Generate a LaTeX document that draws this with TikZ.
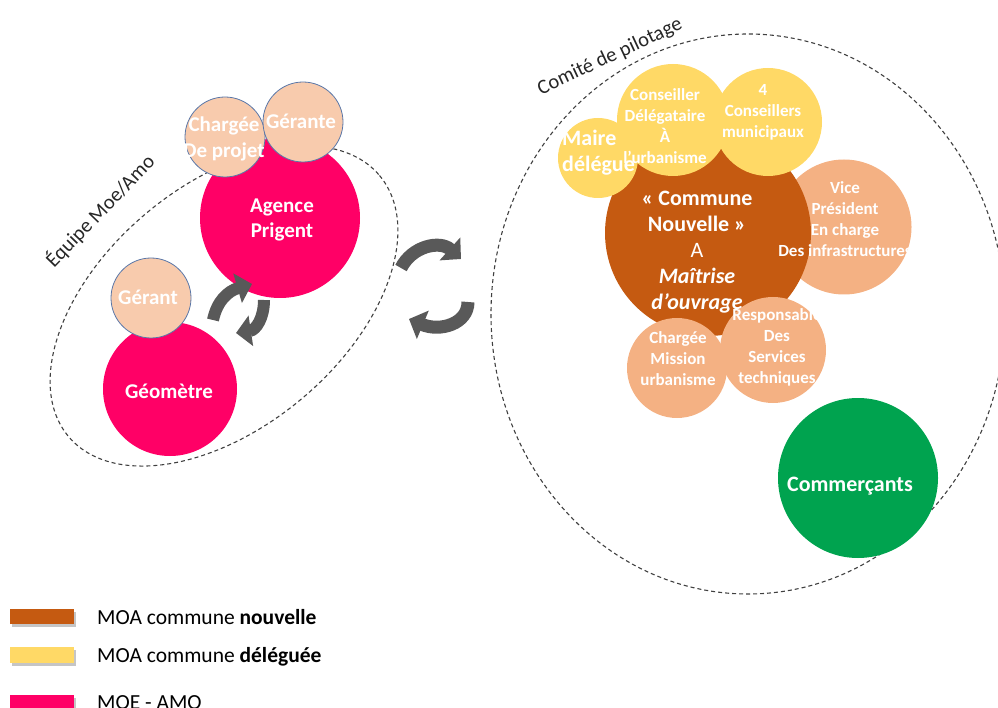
\documentclass[tikz,border=0pt]{standalone}
\usepackage{fontspec}
\setmainfont{Carlito}
\usetikzlibrary{arrows.meta}
\definecolor{cPink}{HTML}{FF0066}
\definecolor{cPeach}{HTML}{F8CBAD}
\definecolor{cEdge}{HTML}{5A77A8}
\definecolor{cDark}{HTML}{C55A11}
\definecolor{cYel}{HTML}{FFD966}
\definecolor{cLight}{HTML}{F4B183}
\definecolor{cGreen}{HTML}{00A34F}
\definecolor{cGray}{HTML}{595959}
\definecolor{cDash}{HTML}{404040}
\begin{document}
\begin{tikzpicture}[x=1pt,y=-1pt,
  disc/.style={circle,inner sep=0pt,outer sep=0pt,minimum size=#1},
  bigtxt/.style={text=white,font=\bfseries\fontsize{21}{25.5}\selectfont,align=center,inner sep=0pt},
  smalltxt/.style={text=white,font=\bfseries\fontsize{17}{21}\selectfont,align=center,inner sep=0pt},
  grouptxt/.style={text=black!85,font=\fontsize{20.5}{24}\selectfont,inner sep=0pt},
  legtxt/.style={text=black,font=\fontsize{21.5}{26}\selectfont,inner sep=0pt,anchor=base west},
  dashline/.style={draw=cDash,line width=1.1pt,dash pattern=on 4pt off 3pt},
  garrow/.style={draw=cGray,line width=12pt,-{Triangle[length=15pt,width=30pt]}},
  legbox/.style={minimum width=64pt,minimum height=15pt,inner sep=0pt,anchor=north west}
]
\useasboundingbox (0,0) rectangle (998,708);

% ---------- left group ----------
\draw[dashline,rotate around={40:(224,306)}] (224,306) ellipse [x radius=203,y radius=121];
\node[disc=160pt,fill=cPink] (agence) at (280,218) {};
\node[disc=134pt,fill=cPink] (geometre) at (170,389) {};
\node[disc=80pt,fill=cPeach,draw=cEdge,line width=0.8pt] (gerant) at (151,298) {};
\node[disc=80pt,fill=cPeach,draw=cEdge,line width=0.8pt] (chargee) at (225,137) {};
\node[disc=80pt,fill=cPeach,draw=cEdge,line width=0.8pt] (gerante) at (303,122) {};

\node[bigtxt] (tAgence) at (282,220) {Agence\\Prigent};
\node[bigtxt] (tGeometre) at (169,391) {Géomètre};
\node[bigtxt] (tGerant) at (148,297) {Gérant};
\node[bigtxt] (tChargee) at (224,139) {Chargée\\De projet};
\node[bigtxt] (tGerante) at (301,121) {Gérante};

\node[grouptxt,rotate=46] (lEquipe) at (100,211) {Équipe Moe/Amo};

% rotating arrows (left)
\coordinate (a1s) at (213,320);
\coordinate (a1e) at (252,284);
\draw[garrow] (a1s) .. controls (217,301) and (228,291) .. (a1e);
\coordinate (a2s) at (264,300);
\coordinate (a2e) at (236,333);
\draw[garrow] (a2s) .. controls (264,318) and (256,330) .. (a2e);

% rotating arrows (middle)
\coordinate (m1s) at (401,268);
\coordinate (m1e) at (461,259);
\draw[garrow,line width=13pt] (m1s) .. controls (412,246) and (440,240) .. (m1e);
\coordinate (m2s) at (468,302);
\coordinate (m2e) at (409,319);
\draw[garrow,line width=13pt] (m2s) .. controls (468,324) and (440,332) .. (m2e);

% ---------- right group ----------
\draw[dashline] (748,314) ellipse [x radius=257,y radius=280];
\node[disc=135pt,fill=cLight] (vice) at (844,227) {};
\node[disc=206pt,fill=cDark] (commune) at (708,233) {};
\node[disc=80pt,fill=cYel] (maire) at (598,158) {};
\node[disc=112pt,fill=cYel] (conseiller) at (673,120) {};
\node[disc=108pt,fill=cYel] (quatre) at (768,122) {};
\node[disc=100pt,fill=cLight] (mission) at (677,368) {};
\node[disc=106pt,fill=cLight] (resp) at (773,350) {};
\node[disc=160pt,fill=cGreen] (commercants) at (858,478) {};

\node[bigtxt,font=\bfseries\fontsize{22}{26}\selectfont] (tCommune) at (697,252)
  {« Commune\\Nouvelle »\\{\mdseries A}\\{\itshape Maîtrise}\\{\itshape d’ouvrage}};
\node[bigtxt,font=\bfseries\fontsize{22}{26}\selectfont,align=left,anchor=west] (tMaire) at (562,153) {Maire\\délégue};
\node[smalltxt] (tConseiller) at (665,126) {Conseiller\\Délégataire\\À\\l’urbanisme};
\node[smalltxt] (tQuatre) at (763,112) {4\\Conseillers\\municipaux};
\node[smalltxt] (tVice) at (845,219) {Vice\\Président\\En charge\\Des infrastructures};
\node[smalltxt] (tMission) at (678,359) {Chargée\\Mission\\urbanisme};
\begin{scope}
\clip (700,290) rectangle (817,410);
\node[smalltxt] (tResp) at (777,347) {Responsable\\Des\\Services\\techniques};
\end{scope}
\node[bigtxt,font=\bfseries\fontsize{22}{26}\selectfont] (tCommercants) at (850,486) {Commerçants};

\node[grouptxt,rotate=25] (lComite) at (610,57) {Comité de pilotage};

% ---------- legend ----------
\fill[black!45,opacity=0.5] (12,612) rectangle (76,627);
\node[legbox,fill=cDark] (lg1) at (10,609) {};
\node[legtxt] (lt1) at (97,624) {MOA commune \textbf{nouvelle}};
\fill[black!45,opacity=0.5] (12,650) rectangle (76,666);
\node[legbox,fill=cYel,minimum height=16pt] (lg2) at (10,647) {};
\node[legtxt] (lt2) at (97,662) {MOA commune \textbf{déléguée}};
\fill[black!45,opacity=0.5] (12,698) rectangle (76,713);
\node[legbox,fill=cPink] (lg3) at (10,695) {};
\node[legtxt] (lt3) at (97,709) {MOE - AMO};
\end{tikzpicture}
\end{document}
